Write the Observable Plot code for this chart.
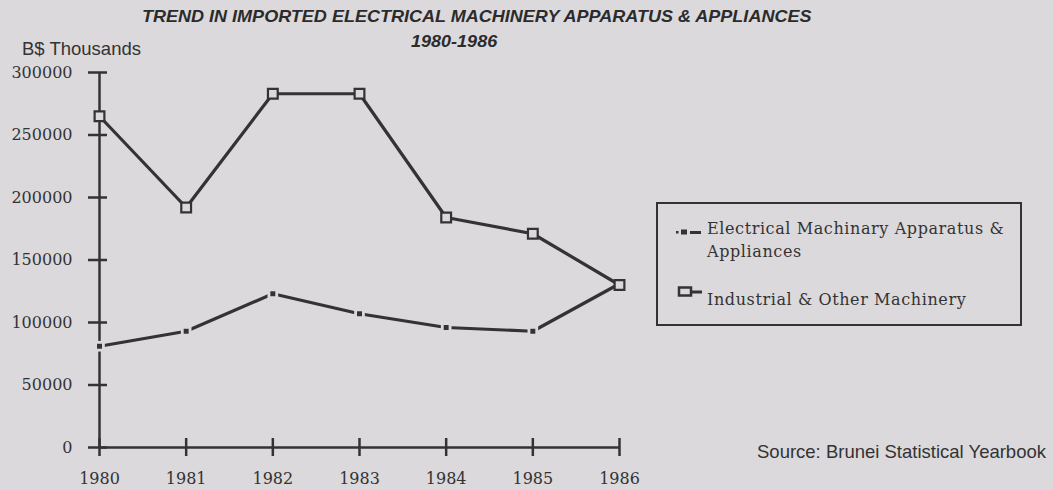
<!DOCTYPE html>
<html>
<head>
<meta charset="utf-8">
<script src="https://cdn.jsdelivr.net/npm/d3@7"></script>
<script src="https://cdn.jsdelivr.net/npm/@observablehq/plot@0.6"></script>
<style>
  html, body { margin: 0; padding: 0; background: #dbd9dc; }
  #wrap { position: relative; width: 1053px; height: 490px; overflow: hidden; }
  #wrap svg { position: absolute; left: 0; top: 0; }
  .abs { position: absolute; white-space: nowrap; color: #2b2b2b; line-height: normal; }
  .title { font-family: "Liberation Sans", Arial, sans-serif; font-weight: bold; font-style: italic; font-size: 17px; transform: scaleX(1.06); transform-origin: left top; }
  .sans { font-family: "Liberation Sans", Arial, sans-serif; font-size: 18.5px; color: #333; }
  .legend { position: absolute; left: 656px; top: 202px; width: 362px; height: 120px; border: 2px solid #333; box-sizing: content-box; }
  .ltext { font-family: "DejaVu Serif", serif; font-size: 16px; letter-spacing: 0.6px; color: #333; }
</style>
</head>
<body>
<div id="wrap"></div>
<script>
// ---- data ----
const years = [1980, 1981, 1982, 1983, 1984, 1985, 1986];
const electrical = [81000, 93000, 123000, 107000, 96000, 93000, 131000];
const industrial = [265000, 192000, 283000, 283000, 184000, 171000, 130000];
const yTicks = [0, 50000, 100000, 150000, 200000, 250000, 300000];
const legendLines = ["Electrical Machinary Apparatus &", "Appliances", "Industrial & Other Machinery"];

const elecData = years.map((y, i) => ({year: y, value: electrical[i]}));
const indData = years.map((y, i) => ({year: y, value: industrial[i]}));

const ink = "#333";
const bg = "#dbd9dc";
const serif = "DejaVu Serif";

const chart = Plot.plot({
  width: 1053,
  height: 490,
  marginLeft: 99,
  marginRight: 434,
  marginTop: 72,
  marginBottom: 43,
  style: {background: "transparent", color: ink, fontFamily: serif, fontSize: "16px"},
  x: {domain: [1980, 1986]},
  y: {domain: [0, 300000]},
  marks: [
    Plot.ruleX([1980], {stroke: ink, strokeWidth: 2.5}),
    Plot.ruleY([0], {stroke: ink, strokeWidth: 2.5}),
    Plot.axisY({ticks: yTicks, tickSize: 19, dx: 8, text: null, stroke: ink, strokeWidth: 2.5, label: null}),
    Plot.axisY({ticks: yTicks, tickSize: 0, tickPadding: 27, tickFormat: d => String(d), fontSize: 16, fontFamily: serif, fill: ink, label: null}),
    Plot.axisX({ticks: years, tickSize: 18, dy: -9, text: null, stroke: ink, strokeWidth: 2.5, label: null}),
    Plot.axisX({ticks: years, tickSize: 0, tickPadding: 25, tickFormat: d => String(d), fontSize: 16, fontFamily: serif, fill: ink, label: null}),
    // Electrical series
    Plot.line(elecData, {x: "year", y: "value", stroke: ink, strokeWidth: 3.2}),
    Plot.dot(elecData, {x: "year", y: "value", symbol: "square", r: 6, fill: bg, stroke: "none"}),
    Plot.dot(elecData, {x: "year", y: "value", symbol: "square", r: 2.8, fill: ink, stroke: "none"}),
    // Industrial series
    Plot.line(indData, {x: "year", y: "value", stroke: ink, strokeWidth: 3.2}),
    Plot.dot(indData, {x: "year", y: "value", symbol: "square", r: 5.5, fill: bg, stroke: ink, strokeWidth: 2.2})
  ]
});

const wrap = document.getElementById("wrap");
wrap.appendChild(chart);

function addDiv(text, cls, left, top) {
  const d = document.createElement("div");
  d.className = "abs " + cls;
  d.style.left = left + "px";
  d.style.top = top + "px";
  d.textContent = text;
  wrap.appendChild(d);
  return d;
}

addDiv("TREND IN IMPORTED ELECTRICAL MACHINERY APPARATUS & APPLIANCES", "title", 142, 7);
addDiv("1980-1986", "title", 411, 32);
addDiv("B$ Thousands", "sans", 22, 38);
addDiv("Source: Brunei Statistical Yearbook", "sans", 757, 441);

// Legend
const leg = document.createElement("div");
leg.className = "legend";
wrap.appendChild(leg);

const sym = document.createElementNS("http://www.w3.org/2000/svg", "svg");
sym.setAttribute("width", "1053");
sym.setAttribute("height", "490");
sym.innerHTML = `
  <rect x="676" y="231" width="2.5" height="2.5" fill="${ink}"/>
  <rect x="681" y="229.5" width="6" height="5" fill="${ink}"/>
  <rect x="690" y="231" width="11" height="3" fill="${ink}"/>
  <line x1="690" y1="292" x2="702" y2="292" stroke="${ink}" stroke-width="3"/>
  <rect x="679" y="287.5" width="12" height="8" fill="${bg}" stroke="${ink}" stroke-width="2.5"/>
`;
wrap.appendChild(sym);

addDiv(legendLines[0], "ltext", 707, 219);
addDiv(legendLines[1], "ltext", 707, 242);
addDiv(legendLines[2], "ltext", 707, 290);
</script>
</body>
</html>
